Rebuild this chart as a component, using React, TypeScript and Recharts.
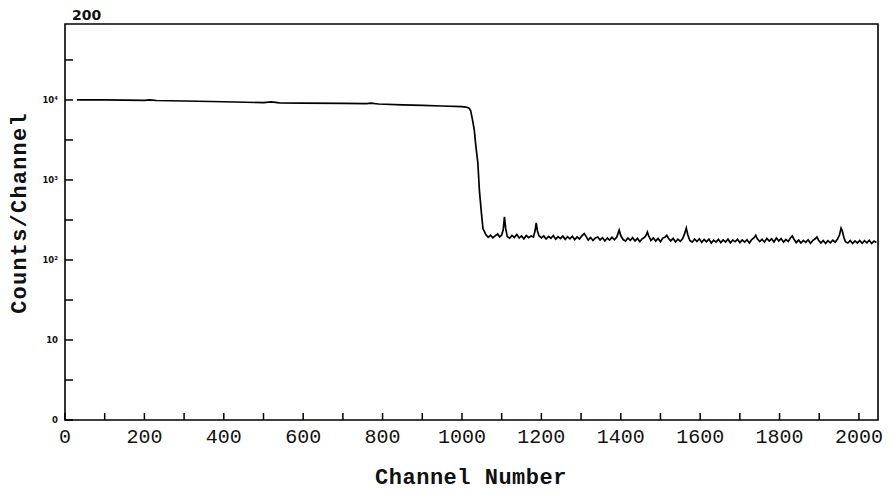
import React from 'react'
import {
  LineChart,
  Line,
  XAxis,
  YAxis,
  ReferenceArea,
  Label
} from 'recharts'

// channel numbers and counts
const channels = [
  30, 100, 200, 214, 230, 300, 400, 500, 520, 540, 600, 700, 760, 770, 790, 850, 900, 950, 1000, 1010,
  1018, 1022, 1027, 1031, 1035, 1040, 1044, 1049, 1053, 1057,
  1060, 1066, 1072, 1078, 1084, 1090, 1095, 1100, 1104, 1107, 1110, 1114, 1120, 1126, 1132, 1138, 1144, 1150,
  1156, 1162, 1168, 1174, 1180, 1184, 1187, 1190, 1194, 1200, 1206, 1212, 1218, 1224, 1230, 1236, 1242, 1248,
  1254, 1260, 1266, 1272, 1278, 1284, 1290, 1296, 1302, 1308, 1313, 1318, 1324, 1330, 1336, 1342, 1348, 1354,
  1360, 1366, 1372, 1378, 1384, 1390, 1396, 1400, 1406, 1412, 1418, 1424, 1430, 1436, 1442, 1448, 1454, 1460,
  1464, 1467, 1470, 1476, 1482, 1488, 1494, 1500, 1506, 1512, 1516, 1520, 1526, 1532, 1538, 1544, 1550, 1556,
  1561, 1565, 1569, 1574, 1580, 1586, 1592, 1598, 1604, 1610, 1616, 1622, 1628, 1634, 1640, 1646, 1652, 1658,
  1664, 1670, 1676, 1682, 1688, 1694, 1700, 1706, 1712, 1718, 1724, 1730, 1736, 1740, 1744, 1750, 1756, 1762,
  1768, 1774, 1780, 1786, 1792, 1798, 1804, 1810, 1816, 1822, 1828, 1832, 1836, 1842, 1848, 1854, 1860, 1866,
  1872, 1878, 1884, 1890, 1894, 1898, 1904, 1910, 1916, 1922, 1928, 1934, 1940, 1946, 1951, 1955, 1958, 1962,
  1966, 1972, 1978, 1984, 1990, 1996, 2002, 2008, 2014, 2020, 2026, 2032, 2038, 2044
]

const counts = [
  10050, 10000, 9900, 10050, 9850, 9700, 9500, 9250, 9450, 9200, 9150, 9050, 9000, 9150, 8900, 8700, 8550, 8400, 8250, 8150,
  7900, 7300, 5470, 4200, 2650, 1630, 730, 385, 245, 225,
  208, 192, 204, 189, 201, 211, 194, 205, 240, 345, 250, 196, 187, 203, 191, 209, 188, 200,
  184, 202, 190, 199, 193, 230, 290, 232, 201, 189, 200, 183, 197, 187, 202, 182, 196, 185,
  199, 181, 195, 184, 198, 180, 194, 183, 200, 214, 196, 177, 191, 175, 189, 194, 178, 190,
  173, 188, 177, 192, 179, 194, 236, 202, 180, 172, 188, 176, 190, 173, 186, 170, 184, 192,
  205, 224, 202, 175, 189, 172, 186, 169, 188, 194, 203, 187, 173, 186, 168, 182, 171, 185,
  215, 250, 205, 175, 167, 183, 170, 184, 166, 180, 169, 182, 163, 177, 167, 181, 165, 178,
  168, 182, 164, 177, 169, 181, 165, 178, 167, 179, 163, 180, 190, 204, 184, 170, 182, 167,
  186, 172, 184, 168, 188, 173, 185, 167, 181, 170, 190, 200, 183, 165, 177, 163, 176, 166,
  179, 162, 176, 184, 194, 178, 163, 175, 161, 174, 164, 177, 167, 183, 205, 250, 232, 192,
  169, 163, 175, 161, 173, 163, 175, 162, 174, 164, 176, 161, 172, 165
]

const xTicks = [0, 100, 200, 300, 400, 500, 600, 700, 800, 900, 1000, 1100, 1200, 1300, 1400, 1500, 1600, 1700, 1800, 1900, 2000]
const yTicks = [1, 3.16, 10, 31.6, 100, 316, 1000, 3162, 10000, 31623]
const yTickLabels: Record<number, string> = { 1: '0', 10: '10', 100: '10²', 1000: '10³', 10000: '10⁴' }

const data = channels.map((c, i) => ({ channel: c, counts: counts[i] }))

const XTick = ({ x, y, payload }: any) => (
  <g>
    <line x1={x} y1={y} x2={x} y2={y - 7} stroke='#000' strokeWidth={1.5} />
    {payload.value % 200 === 0 && (
      <text x={x} y={y + 23} textAnchor='middle' fontFamily='Liberation Mono' fontSize={20} fill='#111'>
        {payload.value}
      </text>
    )}
  </g>
)

const YTick = ({ x, y, payload }: any) => (
  <g>
    <line x1={x} y1={y} x2={x + 8} y2={y} stroke='#000' strokeWidth={1.5} />
    {yTickLabels[payload.value] && (
      <text x={x - 7} y={y} dy='0.35em' textAnchor='end' fontFamily='DejaVu Sans' fontWeight='bold' fontSize={8.5} fill='#111'>
        {yTickLabels[payload.value]}
      </text>
    )}
  </g>
)

const App = () => {
  return (
    <div style={{ width: 876, height: 482 }}>
      <LineChart width={876} height={482} data={data} margin={{ top: 16, right: 6, left: 0, bottom: 0 }}>
        <XAxis
          type='number'
          dataKey='channel'
          domain={[0, 2048]}
          allowDataOverflow
          ticks={xTicks}
          interval={0}
          tick={<XTick />}
          tickLine={false}
          axisLine={false}
          tickSize={0}
          tickMargin={0}
          height={70}
        >
          <Label
            content={() => (
              <text x={463} y={476} textAnchor='middle' fontFamily='Liberation Mono' fontWeight='bold' fontSize={22} letterSpacing={0.5} fill='#111'>
                Channel Number
              </text>
            )}
          />
        </XAxis>
        <YAxis
          scale='log'
          domain={[1, 89000]}
          allowDataOverflow
          ticks={yTicks}
          interval={0}
          tick={<YTick />}
          tickLine={false}
          axisLine={false}
          tickSize={0}
          tickMargin={0}
          width={57}
        >
          <Label
            content={() => (
              <g>
                <text x={18} y={205} transform='rotate(-90 18 205)' textAnchor='middle' fontFamily='Liberation Mono' fontWeight='bold' fontSize={22} letterSpacing={1.2} fill='#111'>
                  Counts/Channel
                </text>
                <text x={64} y={12} fontFamily='DejaVu Sans' fontWeight='bold' fontSize={14} fill='#111'>
                  200
                </text>
              </g>
            )}
          />
        </YAxis>
        <ReferenceArea x1={0} x2={2048} y1={1} y2={89000} fill='none' stroke='#000' strokeWidth={1.6} />
        <Line type='linear' dataKey='counts' stroke='#000' strokeWidth={1.7} dot={false} isAnimationActive={false} />
      </LineChart>
    </div>
  )
}

export default App
